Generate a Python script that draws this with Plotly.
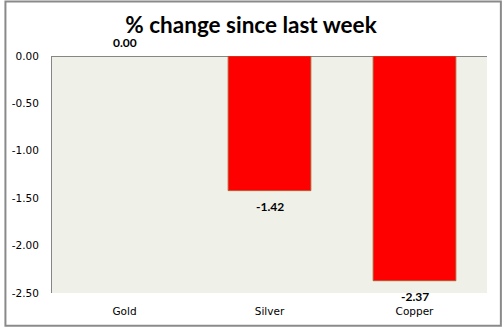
import plotly.graph_objects as go

categories = ["Gold", "Silver", "Copper"]
values = [0.00, -1.42, -2.37]
tick_values = [0.0, -0.5, -1.0, -1.5, -2.0, -2.5]
tick_labels = ["0.00", "-0.50", "-1.00", "-1.50", "-2.00", "-2.50"]
title_text = "% change since last week"

W, H = 502, 329
ML, MR, MT, MB = 48, 15, 56, 34

fig = go.Figure()
fig.add_trace(go.Bar(
    x=categories, y=values,
    marker=dict(color="#FF0000",
                line=dict(color="#B5582E", width=[0 if v == 0 else 1 for v in values])),
    width=0.57,
    hoverinfo="skip",
))

for c, v in zip(categories, values):
    fig.add_annotation(
        x=c, y=v, text="<b>%.2f</b>" % v, showarrow=False,
        yanchor="bottom" if v >= 0 else "top",
        yshift=4 if v >= 0 else -6,
        font=dict(family="Lato", size=12, color="#000000"),
    )

pw = W - ML - MR
ph = H - MT - MB
fig.add_shape(
    type="rect", xref="paper", yref="paper",
    x0=(-ML + 1) / pw, x1=(W - ML - 1) / pw,
    y0=(-MB + 1) / ph, y1=(H - MB - 1) / ph,
    line=dict(color="#8A8A8A", width=2), layer="above",
)

fig.update_layout(
    width=W, height=H,
    margin=dict(l=ML, r=MR, t=MT, b=MB),
    paper_bgcolor="#FFFFFF",
    plot_bgcolor="#EFF0E8",
    showlegend=False,
    title=dict(
        text="<b>%s</b>" % title_text,
        x=0.5, xref="container", xanchor="center",
        y=1 - 25 / H, yref="container", yanchor="middle",
        font=dict(family="Lato", size=22.5, color="#000000"),
    ),
    xaxis=dict(
        showgrid=False, showline=False, zeroline=False,
        ticks="", ticklabelstandoff=10,
        tickfont=dict(family="DejaVu Sans", size=10.5, color="#000000"),
    ),
    yaxis=dict(
        range=[-2.5, 0], showgrid=False,
        tickvals=tick_values, ticktext=tick_labels,
        showline=True, linecolor="#868686", linewidth=1,
        zeroline=True, zerolinecolor="#868686", zerolinewidth=1,
        ticks="", ticklabelstandoff=10,
        tickfont=dict(family="DejaVu Sans", size=10.5, color="#000000"),
    ),
)

fig.write_html("out.html")
